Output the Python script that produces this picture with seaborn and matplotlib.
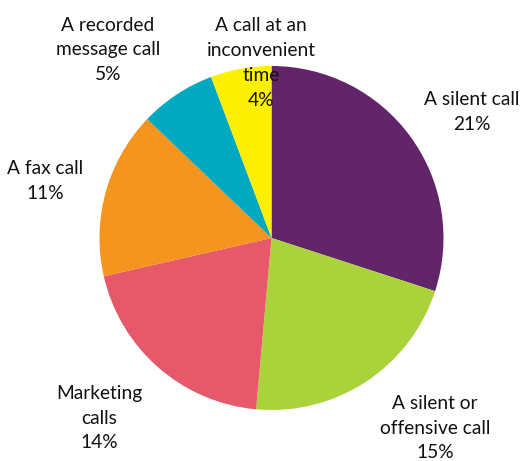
import matplotlib
matplotlib.use("Agg")
import matplotlib.pyplot as plt
import seaborn as sns

categories = ["A silent call", "A silent or\noffensive call", "Marketing\ncalls",
              "A fax call", "A recorded\nmessage call", "A call at an\ninconvenient\ntime"]
shares = [21, 15, 14, 11, 5, 4]
colors = ["#63256a", "#aad23a", "#e6596b", "#f5941f", "#00a9bf", "#fdf000"]
# label anchor points (pixel units, origin bottom-left)
label_xy = [(472, 349), (435, 33), (99, 43), (45, 280), (108, 411), (261, 398)]

sns.set_theme(style="white")
plt.rcParams["font.family"] = ["Lato", "DejaVu Sans"]

fig = plt.figure(figsize=(5.29, 4.61), dpi=100)
ax = fig.add_axes([0, 0, 1, 1])
ax.pie(shares, colors=colors, startangle=90, counterclock=False,
       center=(271.5, 223), radius=172, wedgeprops=dict(linewidth=0))
ax.set_xlim(0, 529)
ax.set_ylim(0, 461)
ax.set_aspect("equal")
ax.axis("off")

for name, val, (x, y) in zip(categories, shares, label_xy):
    ax.text(x, y, f"{name}\n{val}%", ha="center", va="center", fontsize=13.8,
            color="#111111", linespacing=1.56, zorder=5)

fig.savefig("out.png", dpi=100)
